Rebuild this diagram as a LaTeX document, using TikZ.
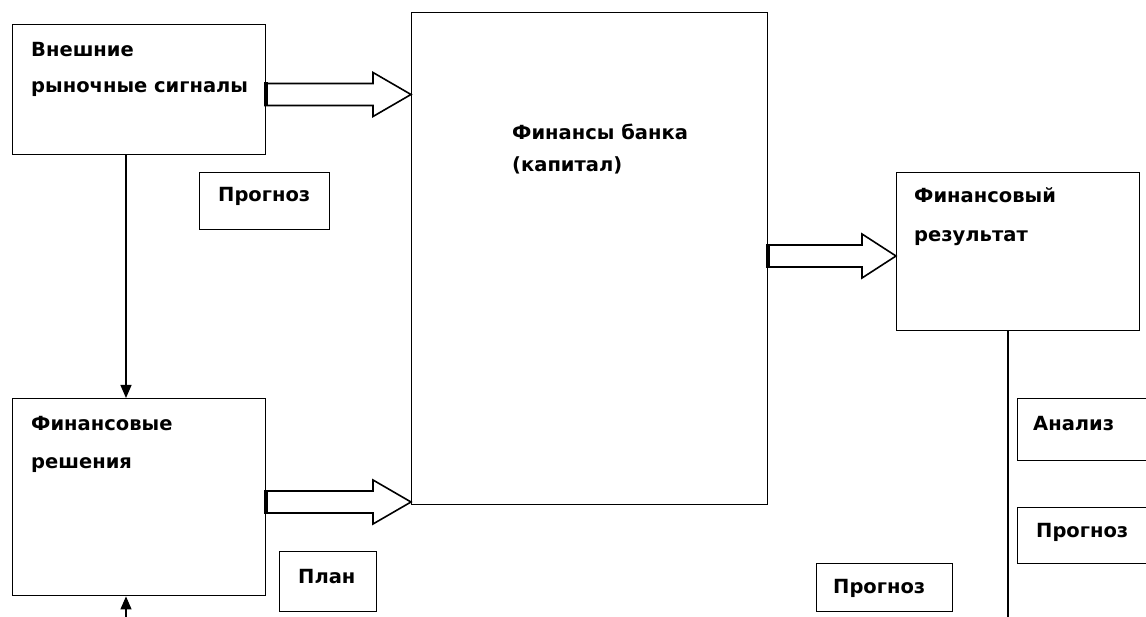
\documentclass[tikz,border=0pt]{standalone}
\usepackage{fontspec}
\setmainfont{DejaVu Sans}
\usetikzlibrary{arrows.meta}
\tikzset{
  box/.style={draw, line width=1.4pt, rectangle, inner sep=0pt, anchor=north west},
  txt/.style={anchor=base west, inner sep=0pt, font=\fontsize{19.5}{21}\selectfont\bfseries},
  blk/.style={draw, line width=1.6pt, fill=white, line join=miter},
  blkend/.style={line width=3.5pt},
  arr/.style={line width=1.2pt, -{Triangle[width=11pt,length=13pt]}},
  plain/.style={line width=1.2pt}
}
\newcommand{\blkarrow}[4]{% #1 start x, #2 mid y, #3 head start x, #4 tip x
  \draw[blk] (#1,#2-11) -- (#3,#2-11) -- (#3,#2-22) -- (#4,#2) -- (#3,#2+22) -- (#3,#2+11) -- (#1,#2+11) -- cycle;
  \draw[blkend] (#1+1,#2-12) -- (#1+1,#2+12);
}
\begin{document}
\begin{tikzpicture}[x=1pt,y=-1pt]
\useasboundingbox (0,0) rectangle (1146,617);
\fill[white] (0,0) rectangle (1146,617);
% boxes
\node[box, minimum width=253pt, minimum height=130pt] (ext) at (12,24) {};
\node[box, minimum width=356pt, minimum height=492pt] (fin) at (411,12) {};
\node[box, minimum width=130pt, minimum height=57pt] (prog1) at (199,172) {};
\node[box, minimum width=253pt, minimum height=197pt] (dec) at (12,398) {};
\node[box, minimum width=97pt, minimum height=60pt] (plan) at (279,551) {};
\node[box, minimum width=243pt, minimum height=158pt] (res) at (896,172) {};
\node[box, minimum width=140pt, minimum height=62pt] (anal) at (1017,398) {};
\node[box, minimum width=140pt, minimum height=56pt] (prog2) at (1017,507) {};
\node[box, minimum width=136pt, minimum height=48pt] (prog3) at (816,563) {};
% texts
\node[txt] (t1) at (31,57) {Внешние};
\node[txt] (t2) at (31,93) {рыночные сигналы};
\node[txt] (t3) at (512,140) {Финансы банка};
\node[txt] (t4) at (512,172) {(капитал)};
\node[txt] (t5) at (218,202) {Прогноз};
\node[txt] (t6) at (31,431) {Финансовые};
\node[txt] (t7) at (31,468) {решения};
\node[txt] (t8) at (298,583) {План};
\node[txt] (t9) at (914,203) {Финансовый};
\node[txt] (t10) at (914,242) {результат};
\node[txt] (t11) at (1033,431) {Анализ};
\node[txt] (t12) at (1036,537) {Прогноз};
\node[txt] (t13) at (833,593) {Прогноз};
% connectors
\coordinate (vx) at (126,0);
\coordinate (bot) at (126,617);
\coordinate (rx) at (1008,617);
\draw[arr] (ext.south -| vx) -- (dec.north -| vx);
\draw[arr] (bot) -- (dec.south -| bot);
\draw[plain] (res.south -| rx) -- (rx);
% block arrows
\blkarrow{265}{94.5}{373}{411}
\blkarrow{265}{502}{373}{411}
\blkarrow{767}{256}{862}{896}
\end{tikzpicture}
\end{document}
